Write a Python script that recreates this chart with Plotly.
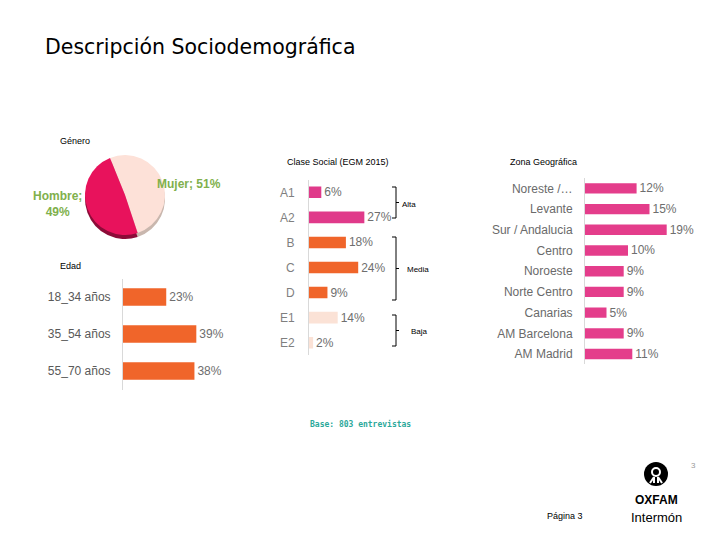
# -*- coding: utf-8 -*-
"""Descripción Sociodemográfica: género, edad, clase social y zona."""

import plotly.graph_objects as go

W, H = 720, 540

# --- datos -----------------------------------------------------------
genero_labels = ["Mujer", "Hombre"]
genero_values = [51, 49]

edad_labels = ["18_34 años", "35_54 años", "55_70 años"]
edad_values = [23, 39, 38]

clase_labels = ["A1", "A2", "B", "C", "D", "E1", "E2"]
clase_values = [6, 27, 18, 24, 9, 14, 2]
clase_grupo = ["Alta", "Alta", "Media", "Media", "Media", "Baja", "Baja"]

zona_labels = ["Noreste /…", "Levante", "Sur / Andalucia", "Centro", "Noroeste",
               "Norte Centro", "Canarias", "AM Barcelona", "AM Madrid"]
zona_values = [12, 15, 19, 10, 9, 9, 5, 9, 11]

GRUPO_COLORS = {"Alta": "#e03a8a", "Media": "#f0652a", "Baja": "#fbe2d6"}
PINK = "#e43d8b"
ORANGE = "#f0652a"
GREEN = "#80b04c"
GREY = "#6e6e6e"
FONT = "Liberation Sans, Arial, sans-serif"


def px(x):
    return x / W


def py(y):
    return 1 - y / H


def hbar(fig, labels, values, colors, xa, ya, width):
    fig.add_trace(go.Bar(
        x=values, y=labels, orientation="h",
        marker=dict(color=colors, line=dict(width=0)),
        width=width,
        text=[f"{v}%" for v in values],
        textposition="outside", constraintext="none", cliponaxis=False,
        textfont=dict(size=12, color=GREY, family=FONT),
        xaxis=xa, yaxis=ya, showlegend=False, hoverinfo="skip",
    ))


fig = go.Figure()

# --- pie Género (con sombra para el efecto 3D) -----------------------
cx, cy, r = 125, 195, 40
fig.add_trace(go.Pie(
    labels=genero_labels, values=genero_values, sort=False, direction="clockwise",
    rotation=-22, marker=dict(colors=["#c9b7ae", "#8c0b38"]), textinfo="none",
    domain=dict(x=[px(cx - r), px(cx + r)], y=[py(cy + r + 4), py(cy - r + 4)]),
    showlegend=False, hoverinfo="skip",
))
fig.add_trace(go.Pie(
    labels=genero_labels, values=genero_values, sort=False, direction="clockwise",
    rotation=-22, marker=dict(colors=["#fde1d8", "#e8125c"]), textinfo="none",
    domain=dict(x=[px(cx - r), px(cx + r)], y=[py(cy + r), py(cy - r)]),
    showlegend=False, hoverinfo="skip",
))

# --- barras ----------------------------------------------------------
hbar(fig, edad_labels, edad_values, ORANGE, "x", "y", 0.47)
hbar(fig, clase_labels, clase_values, [GRUPO_COLORS[g] for g in clase_grupo], "x2", "y2", 0.46)
hbar(fig, zona_labels, zona_values, PINK, "x3", "y3", 0.5)


def bar_axes(x0, x1, xmax, y0, y1, labels, standoff, color):
    xa = dict(domain=[px(x0), px(x1)], range=[0, xmax], visible=False, fixedrange=True)
    ya = dict(domain=[py(y1), py(y0)], type="category", categoryorder="array",
              categoryarray=labels, range=[len(labels) - 0.5, -0.5],
              showline=True, linecolor="#d9d9d9", linewidth=1, ticks="",
              showgrid=False, zeroline=False, ticklabelstandoff=standoff,
              tickfont=dict(size=12, color=color, family=FONT))
    return xa, ya


xa1, ya1 = bar_axes(123, 243, 120 / 1.88, 278.5, 389.5, edad_labels, 9, "#595959")
xa2, ya2 = bar_axes(309, 409, 100 / 2.05, 179.8, 355.2, clase_labels, 11, "#7f7f7f")
xa3, ya3 = bar_axes(585, 705, 120 / 4.3, 178, 364.4, zona_labels, 9, "#6a6a6a")
ya2["anchor"] = "x2"
ya3["anchor"] = "x3"
xa2["anchor"] = "y2"
xa3["anchor"] = "y3"

# --- textos ----------------------------------------------------------
annotations = []


def note(x, y, text, size=9, color="black", xanchor="left", family=FONT, **kw):
    annotations.append(dict(x=px(x), y=py(y), xref="paper", yref="paper", text=text,
                            showarrow=False, xanchor=xanchor, yanchor="middle",
                            font=dict(size=size, color=color, family=family), **kw))


note(43, 47, "Descripción Sociodemográfica", size=20.5, family="DejaVu Sans, Verdana, sans-serif")
note(58, 141, "Género", size=9)
note(58, 266, "Edad", size=9)
note(285, 162, "Clase Social (EGM 2015)", size=9)
note(508, 162, "Zona Geográfica", size=9)
note(155, 184, "<b>Mujer; 51%</b>", size=12, color=GREEN)
note(57, 204, "<b>Hombre;<br>49%</b>", size=12, color=GREEN, xanchor="center", align="center")
note(400, 204, "Alta", size=8)
note(405, 269, "Media", size=8)
note(409, 331, "Baja", size=8)
note(308, 424, "<b>Base: 803 entrevistas</b>", size=8, color="#2aa89a",
     family="DejaVu Sans Mono, monospace")
note(545, 516, "Página 3", size=9)
note(689, 465, "3", size=8, color="#999999")
note(656, 500, "<b>OXFAM</b>", size=12, xanchor="center",
     family="Liberation Sans Narrow, Arial Narrow, sans-serif")
note(656, 517, "Intermón", size=13, xanchor="center",
     family="Liberation Sans Narrow, Arial Narrow, sans-serif")

# --- llaves Alta / Media / Baja y logo ------------------------------
shapes = []


def seg(x0, y0, x1, y1, color="black", width=1):
    shapes.append(dict(type="line", xref="paper", yref="paper",
                       x0=px(x0), y0=py(y0), x1=px(x1), y1=py(y1),
                       line=dict(color=color, width=width)))


for top, bot in [(187, 218), (237, 300), (315, 346)]:
    seg(396, top, 396, bot)
    seg(392, top, 396, top)
    seg(392, bot, 396, bot)
    mid = (top + bot) / 2
    seg(396, mid, 399, mid)

lx, ly, lr = 656, 474, 12
shapes.append(dict(type="circle", xref="paper", yref="paper",
                   x0=px(lx - lr), x1=px(lx + lr), y0=py(ly + lr), y1=py(ly - lr),
                   fillcolor="black", line=dict(width=0)))
shapes.append(dict(type="circle", xref="paper", yref="paper",
                   x0=px(lx - 4), x1=px(lx + 4), y0=py(ly + 2), y1=py(ly - 6),
                   fillcolor="black", line=dict(color="white", width=2)))
seg(lx - 6, ly + 9, lx - 2, ly + 3, color="white", width=2)
seg(lx + 6, ly + 9, lx + 2, ly + 3, color="white", width=2)
seg(lx - 2, ly + 3, lx - 2, ly + 9, color="white", width=2)
seg(lx + 2, ly + 3, lx + 2, ly + 9, color="white", width=2)

fig.update_layout(
    width=W, height=H, margin=dict(l=0, r=0, t=0, b=0),
    paper_bgcolor="white", plot_bgcolor="rgba(0,0,0,0)",
    font=dict(family=FONT),
    xaxis=xa1, yaxis=ya1, xaxis2=xa2, yaxis2=ya2, xaxis3=xa3, yaxis3=ya3,
    annotations=annotations, shapes=shapes, showlegend=False,
)

# el navegador añade 8px de margen al body: se quita para alinear la figura
fig.write_html("out.html", config={"displayModeBar": False},
               post_script="document.body.style.margin='0';")
